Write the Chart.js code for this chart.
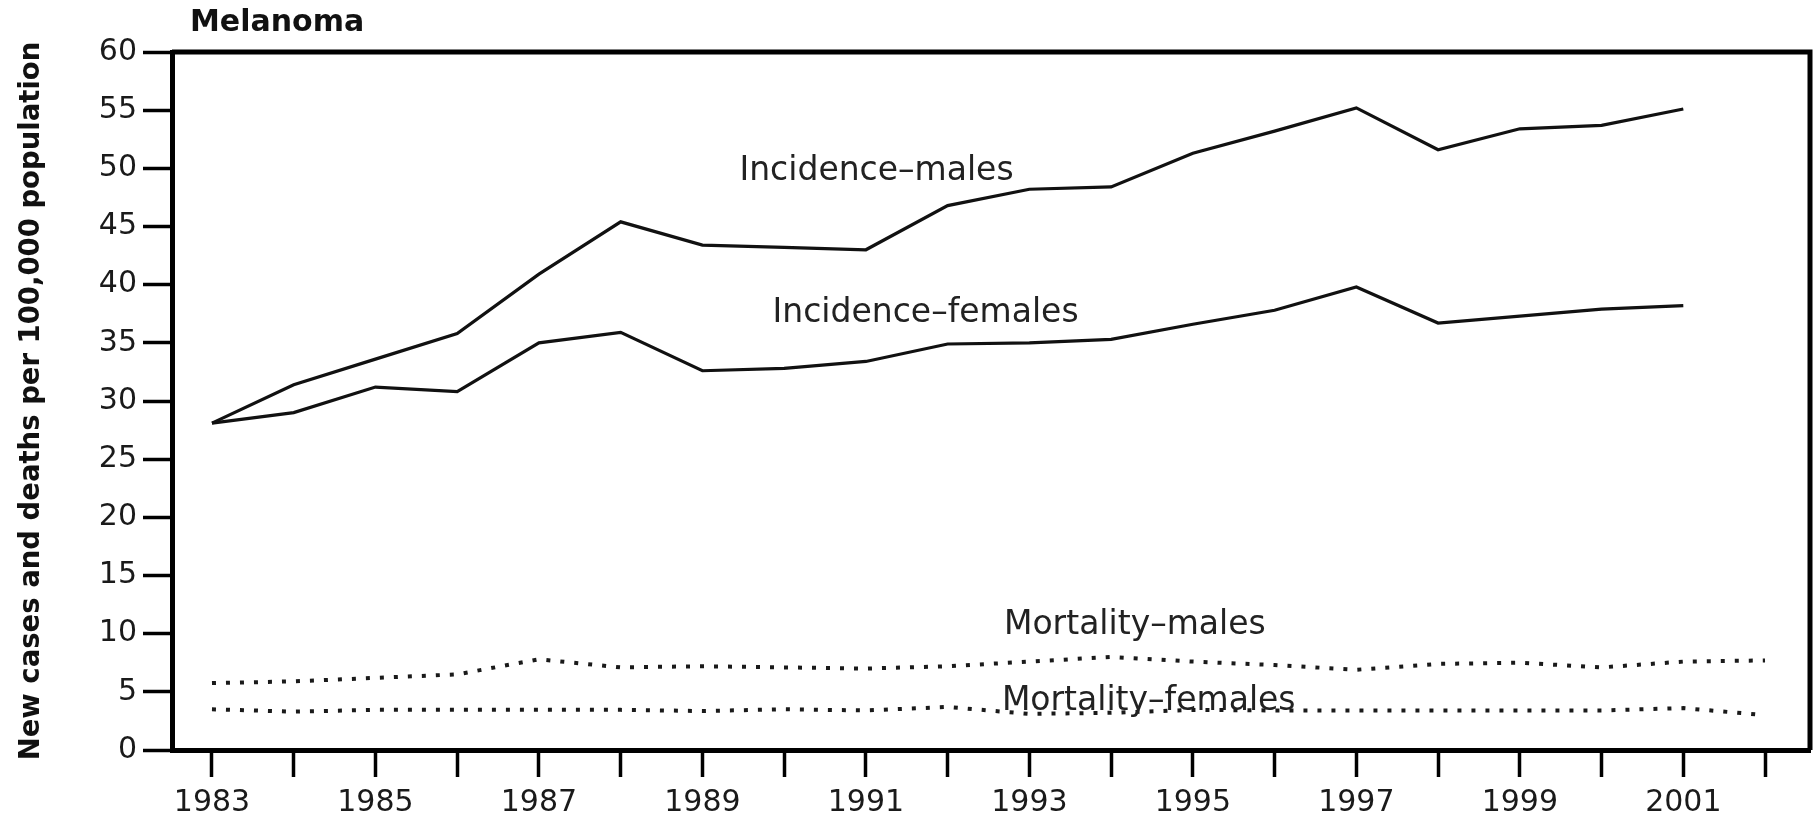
<!DOCTYPE html>
<html>
<head>
<meta charset="utf-8">
<script src="https://cdn.jsdelivr.net/npm/chart.js@4.4.1/dist/chart.umd.min.js"></script>
<style>
  body { margin: 0; background: #fff; }
  #wrap { width: 1814px; height: 820px; }
</style>
</head>
<body>
<div id="wrap"><canvas id="melanomaChart"></canvas></div>
<script>
"use strict";

// values, per 100,000 population
const years = [1983, 1984, 1985, 1986, 1987, 1988, 1989, 1990, 1991, 1992,
               1993, 1994, 1995, 1996, 1997, 1998, 1999, 2000, 2001, 2002];
const incidenceMales   = [28.1, 31.4, 33.6, 35.8, 40.9, 45.4, 43.4, 43.2, 43.0, 46.8,
                          48.2, 48.4, 51.3, 53.2, 55.2, 51.6, 53.4, 53.7, 55.1, null];
const incidenceFemales = [28.1, 29.0, 31.2, 30.8, 35.0, 35.9, 32.6, 32.8, 33.4, 34.9,
                          35.0, 35.3, 36.6, 37.8, 39.8, 36.7, 37.3, 37.9, 38.2, null];
const mortalityMales   = [5.75, 5.9, 6.2, 6.5, 7.8, 7.1, 7.2, 7.1, 7.0, 7.2,
                          7.6, 8.0, 7.6, 7.3, 6.9, 7.4, 7.5, 7.1, 7.6, 7.7];
const mortalityFemales = [3.5, 3.3, 3.45, 3.45, 3.45, 3.45, 3.35, 3.5, 3.4, 3.7,
                          3.1, 3.2, 3.45, 3.4, 3.4, 3.4, 3.4, 3.4, 3.6, 3.0];

// line labels, placed in data units
const labelTexts = ['Incidence–males', 'Incidence–females', 'Mortality–males', 'Mortality–females'];
const labelYears = [1991.13, 1991.73, 1994.29, 1994.46];
const labelValues = [49.7, 37.5, 10.75, 4.2];

const toPoints = (arr) => years.map((yr, i) => ({ x: yr, y: arr[i] })).filter(p => p.y !== null);

const INK = '#111';
const FONT = "'DejaVu Sans', sans-serif";

// top + right frame, title and line labels
const framePlugin = {
  id: 'frame',
  afterDraw(chart) {
    const { ctx, chartArea, scales } = chart;
    ctx.save();
    ctx.strokeStyle = '#000';
    ctx.lineWidth = 5;
    ctx.beginPath();
    ctx.moveTo(chartArea.left, chartArea.top);
    ctx.lineTo(chartArea.right, chartArea.top);
    ctx.lineTo(chartArea.right, chartArea.bottom);
    ctx.stroke();

    ctx.fillStyle = INK;
    ctx.font = "bold 30px " + FONT;
    ctx.textAlign = 'left';
    ctx.textBaseline = 'middle';
    ctx.fillText('Melanoma', chartArea.left + 18, chartArea.top - 29);

    ctx.font = "33px " + FONT;
    ctx.textAlign = 'center';
    ctx.fillStyle = '#222';
    labelTexts.forEach((t, i) => {
      ctx.fillText(t, scales.x.getPixelForValue(labelYears[i]), scales.y.getPixelForValue(labelValues[i]));
    });
    ctx.restore();
  }
};

const solid = { borderColor: INK, borderWidth: 3.2, pointRadius: 0, tension: 0, fill: false };
const dotted = { borderColor: '#1a1a1a', borderWidth: 4, borderDash: [4, 10], borderCapStyle: 'butt',
                 pointRadius: 0, tension: 0, fill: false };

new Chart(document.getElementById('melanomaChart').getContext('2d'), {
  type: 'line',
  data: {
    datasets: [
      Object.assign({ label: 'Incidence–males', data: toPoints(incidenceMales) }, solid),
      Object.assign({ label: 'Incidence–females', data: toPoints(incidenceFemales) }, solid),
      Object.assign({ label: 'Mortality–males', data: toPoints(mortalityMales) }, dotted),
      Object.assign({ label: 'Mortality–females', data: toPoints(mortalityFemales) }, dotted)
    ]
  },
  options: {
    responsive: true,
    maintainAspectRatio: false,
    animation: false,
    layout: { padding: { top: 52, right: 4, left: 0, bottom: 0 } },
    plugins: { legend: { display: false }, tooltip: { enabled: false }, title: { display: false } },
    scales: {
      x: {
        type: 'linear',
        min: 1982.511,
        max: 2002.55,
        afterFit: (scale) => { scale.height = 70; },
        border: { color: '#000', width: 5 },
        grid: { drawOnChartArea: false, tickLength: 27, tickWidth: 3.5, tickColor: '#000' },
        ticks: {
          stepSize: 1,
          includeBounds: false,
          autoSkip: false,
          maxRotation: 0,
          padding: 8,
          color: '#1a1a1a',
          font: { family: FONT, size: 30 },
          callback: (v) => (v % 2 === 1 ? String(v) : '')
        }
      },
      y: {
        min: 0,
        max: 60,
        afterFit: (scale) => { scale.width = 172; },
        border: { color: '#000', width: 5 },
        grid: { drawOnChartArea: false, tickLength: 29, tickWidth: 3.5, tickColor: '#000' },
        ticks: { stepSize: 5, padding: 6, color: '#1a1a1a', font: { family: FONT, size: 30 } },
        title: {
          display: true,
          text: 'New cases and deaths per 100,000 population',
          color: INK,
          font: { family: FONT, size: 27.5, weight: 'bold' },
          padding: { top: 15, bottom: 0 }
        }
      }
    }
  },
  plugins: [framePlugin]
});
</script>
</body>
</html>
